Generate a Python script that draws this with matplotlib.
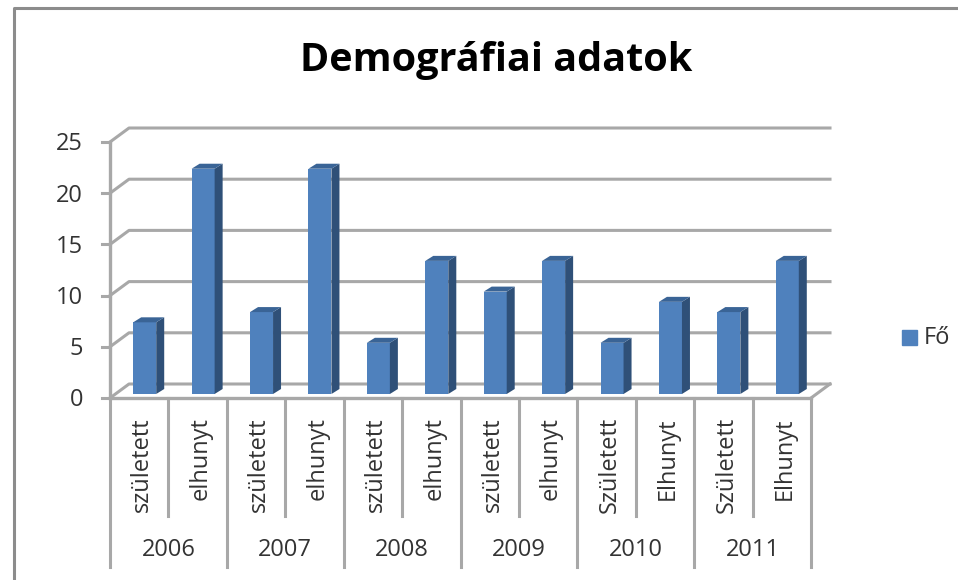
import matplotlib
matplotlib.use("Agg")
import matplotlib.pyplot as plt
import numpy as np

years = ["2006", "2007", "2008", "2009", "2010", "2011"]
labels = ["született", "elhunyt", "született", "elhunyt", "született", "elhunyt",
          "született", "elhunyt", "Született", "Elhunyt", "Született", "Elhunyt"]
values = [7, 22, 8, 22, 5, 13, 10, 13, 5, 9, 8, 13]
yticks = [0, 5, 10, 15, 20, 25]

W, H = 958, 580
front = "#4f81bd"
side = "#2f5078"
top = "#3a6496"
grid = "#a8a8a8"
txt = "#333333"

plt.rcParams["font.family"] = ["Open Sans", "DejaVu Sans"]
fig = plt.figure(figsize=(W / 100, H / 100), dpi=100)

# axes box in pixels: x 110-811, y 398-142
ax = fig.add_axes([110 / W, 1 - 398 / H, 701 / W, 256 / H])
ax.set_xlim(0, 12)
ax.set_ylim(0, 25)
ax.axis("off")

pxx = 12 / 701
pxy = 25 / 256
depth_x = 19 * pxx
depth_y = 14 * pxy
bar_w = 23 * pxx
bar_off = 5.5 * pxx
base = 4 * pxy
bdx = 8 * pxx
bdy = 5 * pxy

kw = dict(clip_on=False)

# floor + back wall lines
for t in yticks:
    ax.plot([0, depth_x, 12 + depth_x], [t, t + depth_y, t + depth_y], color=grid, lw=2.2, **kw)
    ax.plot([-8 * pxx, 0], [t, t], color=grid, lw=2.2, **kw)
ax.plot([12, 12 + depth_x], [0, depth_y], color=grid, lw=2.2, **kw)
ax.plot([0, 12], [0, 0], color=grid, lw=2.4, **kw)
ax.plot([0, 0], [0, 25], color=grid, lw=2.4, **kw)

# bars
x = np.arange(12) + 0.5 + bar_off
vals = np.array(values)
ax.bar(x, vals, bar_w, bottom=base, color=front, zorder=3, **kw)
for xi, v in zip(x, vals):
    l, r = xi - bar_w / 2, xi + bar_w / 2
    ax.fill([r, r + bdx, r + bdx, r], [base, base + bdy, base + v + bdy, base + v],
            color=side, lw=0, zorder=3, **kw)
    ax.fill([l, l + bdx, r + bdx, r], [base + v, base + v + bdy, base + v + bdy, base + v],
            color=top, lw=0, zorder=3, **kw)

# y tick labels
for t in yticks:
    ax.text(-27 * pxx, t - 2.5 * pxy, str(t), ha="right", va="center", fontsize=17, color=txt, **kw)

# category axis, two levels
trans = ax.get_xaxis_transform()
def ypx(p):
    return (398 - p) / 256

for i, lab in enumerate(labels):
    ax.text(i + 0.5 + 3 * pxx, ypx(417), lab, rotation=90, ha="center", va="top", fontsize=17,
            color=txt, transform=trans, **kw)
for i in range(13):
    end = 567 if i % 2 == 0 else 516
    ax.plot([i, i], [0, ypx(end)], color=grid, lw=2.2, transform=trans, **kw)
for i, y in enumerate(years):
    ax.text(2 * i + 1, ypx(550), y, ha="center", va="center", fontsize=17, color=txt,
            transform=trans, **kw)

# title
fig.text(496 / W, 1 - 61 / H, "Demográfiai adatok", ha="center", va="center",
         fontsize=28.5, fontweight="bold", color="black")

# legend
fig.patches.append(plt.Rectangle((902 / W, 1 - 345 / H), 15 / W, 15 / H, color=front,
                                 transform=fig.transFigure))
fig.text(924 / W, 1 - 338 / H, "Fő", ha="left", va="center", fontsize=17, color=txt)

# frame
fig.add_artist(plt.Line2D([14 / W, 14 / W, 1], [0, 1 - 8 / H, 1 - 8 / H], color="#8c8c8c", lw=2.2))

fig.savefig("out.png", dpi=100)
